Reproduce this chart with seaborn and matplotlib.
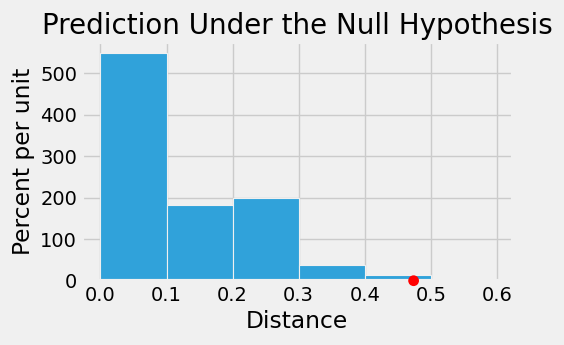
import numpy as np
import pandas as pd
import matplotlib
matplotlib.use("Agg")
import matplotlib.pyplot as plt
import seaborn as sns

plt.style.use("fivethirtyeight")

# Data
bin_edges = [0.0, 0.1, 0.2, 0.3, 0.4, 0.5, 0.6]
bin_centers = [0.05, 0.15, 0.25, 0.35, 0.45, 0.55]
percent_per_unit = [548, 183, 200, 38, 14, 0]
observed_distance = [0.474]
observed_y = [0]

df = pd.DataFrame({"Distance": bin_centers, "height": percent_per_unit})

fig = plt.figure(figsize=(5.64, 3.45), dpi=100)
fig.patch.set_facecolor("#f0f0f0")
ax = fig.add_axes([82 / 564, 64.3 / 345, (512.7 - 82) / 564, (303 - 64.3) / 345])

sns.histplot(data=df, x="Distance", weights="height", bins=bin_edges,
             color="#30a2da", alpha=1.0, edgecolor="#f0f0f0", linewidth=0.8,
             ax=ax, zorder=2)
sns.scatterplot(x=observed_distance, y=observed_y, color="red", s=60,
                edgecolor="none", ax=ax, zorder=5, clip_on=False)

ax.set_xlim(-0.028, 0.624)
ax.set_ylim(0, 575)
ax.set_xticks([0.0, 0.1, 0.2, 0.3, 0.4, 0.5, 0.6])
ax.set_yticks([0, 100, 200, 300, 400, 500])
ax.set_xlabel("Distance", fontsize=16.8)
ax.set_ylabel("Percent per unit", fontsize=16.8)
ax.set_title("Prediction Under the Null Hypothesis", fontsize=20)
ax.tick_params(labelsize=14)
ax.set_axisbelow(True)

fig.savefig("out.png", dpi=100, facecolor=fig.get_facecolor())
